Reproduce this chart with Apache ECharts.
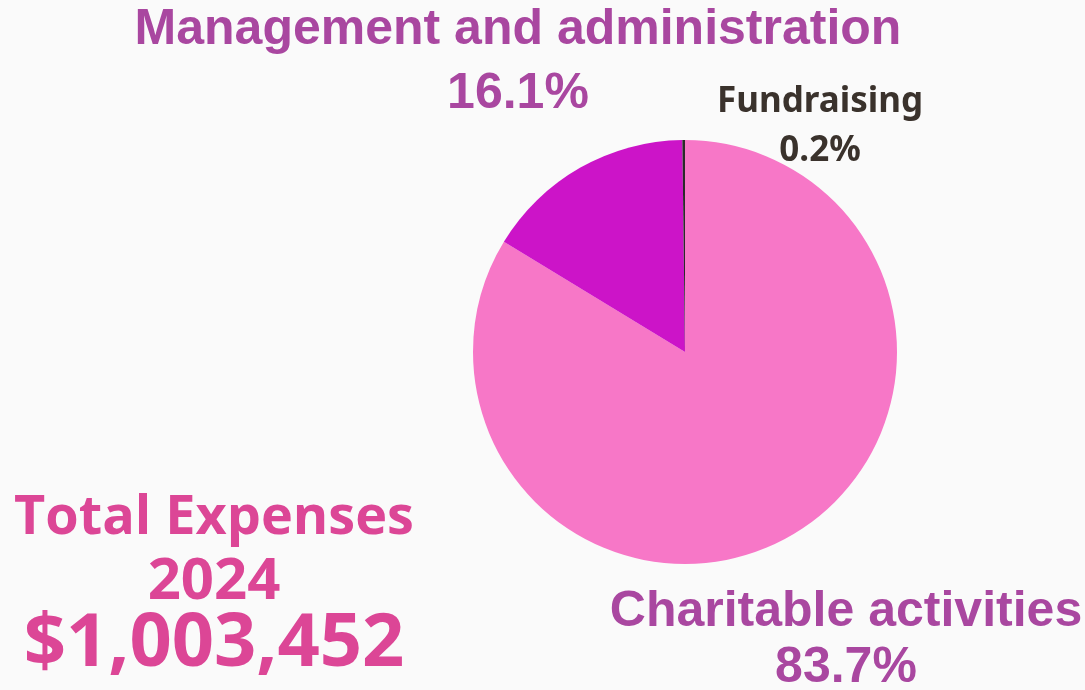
<!DOCTYPE html>
<html><head><meta charset="utf-8">
<script src="https://cdn.jsdelivr.net/npm/echarts@6/dist/echarts.min.js"></script>
<style>html,body{margin:0;padding:0;background:#FAFAFA}#c{width:1085px;height:690px}</style>
</head><body><div id="c"></div>
<script>
const categories = ['Charitable activities', 'Management and administration', 'Fundraising'];
const shares = [83.7, 16.1, 0.2];
const sliceColors = ['#F777C7', '#CC14C8', '#2A2A2A'];
const totalLines = ['Total Expenses', '2024', '$1,003,452'];

const chart = echarts.init(document.getElementById('c'));
const pct = v => v.toFixed(1) + '%';
const labelPos = [
  {x: 846, y: 612, y2: 668, font: 'bold 50px "Liberation Sans", Arial, sans-serif', color: '#A947A0'},
  {x: 518, y: 30, y2: 94, font: 'bold 50px "Liberation Sans Narrow", "Arial Narrow", sans-serif', color: '#A947A0'},
  {x: 820, y: 102, y2: 151, font: 'bold 35px "Noto Sans", "Open Sans", sans-serif', color: '#3A322C'}
];
const graphics = [];
categories.forEach((c, i) => {
  const p = labelPos[i];
  graphics.push({type: 'text', x: p.x, y: p.y, style: {text: c, font: p.font, fill: p.color, textAlign: 'center', textVerticalAlign: 'middle'}});
  graphics.push({type: 'text', x: p.x, y: p.y2, style: {text: pct(shares[i]), font: p.font, fill: p.color, textAlign: 'center', textVerticalAlign: 'middle'}});
});
const totY = [519, 582, 645];
const totFont = ['bold 54px "Open Sans", sans-serif', 'bold 58px "Open Sans", sans-serif', 'bold 74px "Open Sans", sans-serif'];
totalLines.forEach((t, i) => {
  graphics.push({type: 'text', x: 214, y: totY[i], style: {text: t, font: totFont[i], fill: '#DC4696', textAlign: 'center', textVerticalAlign: 'middle'}});
});

chart.setOption({
  backgroundColor: '#FAFAFA',
  animation: false,
  series: [{
    type: 'pie',
    center: [685, 352],
    radius: 212,
    startAngle: 90,
    clockwise: true,
    minAngle: 0,
    label: {show: false},
    labelLine: {show: false},
    itemStyle: {borderWidth: 0},
    data: categories.map((c, i) => ({name: c, value: shares[i], itemStyle: {color: sliceColors[i]}}))
  }],
  graphic: graphics
});
</script></body></html>
